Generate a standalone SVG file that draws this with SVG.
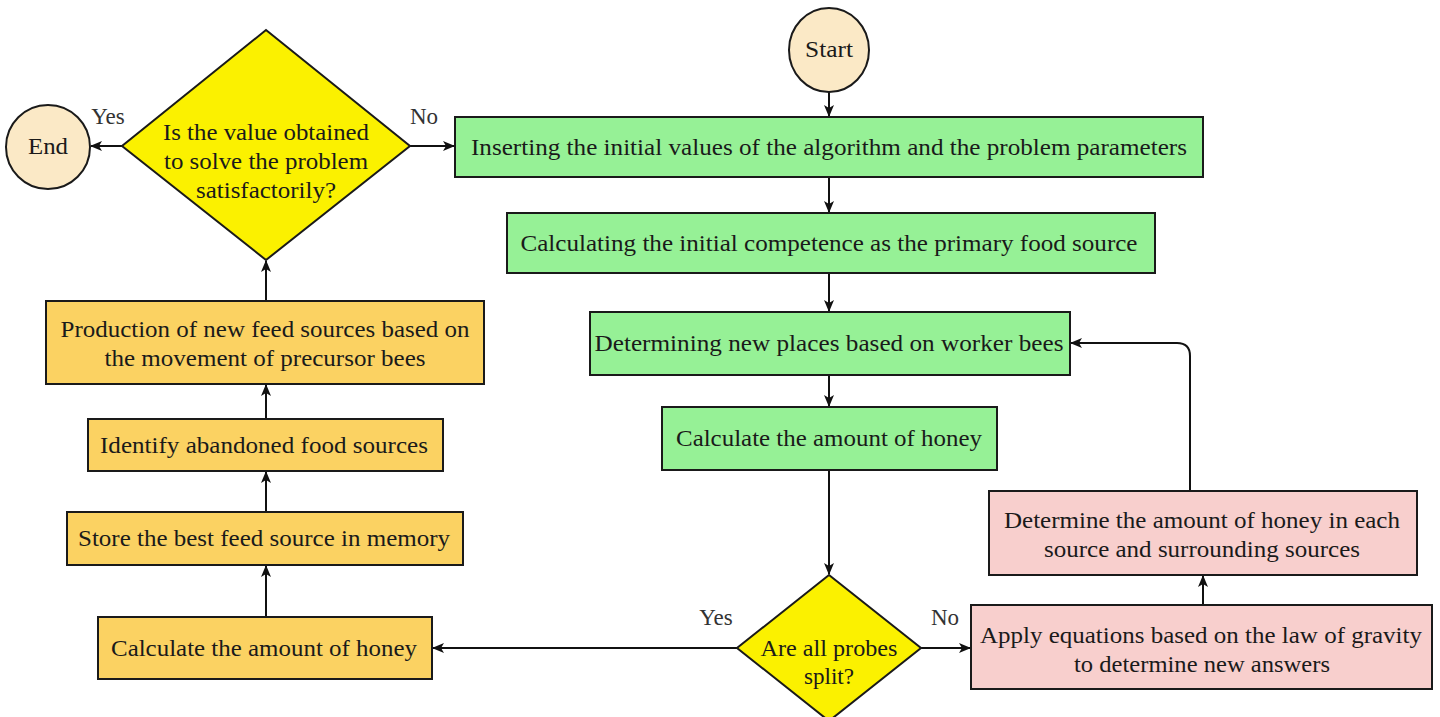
<svg xmlns="http://www.w3.org/2000/svg" width="1440" height="717" viewBox="0 0 1440 717">
<defs>
<marker id="arr" viewBox="0 0 12 10" refX="11" refY="5" markerWidth="12" markerHeight="10" markerUnits="userSpaceOnUse" orient="auto">
<path d="M0,0 L12,5 L0,10 L3,5 z" fill="#111"/>
</marker>
<style>
.box{stroke:#1a1a1a;stroke-width:2}
.g{fill:#96f196}
.o{fill:#fbd262}
.p{fill:#f8cfcd}
.y{fill:#fbf100}
.c{fill:#fbe9c6}
text{font-size:23px;fill:#1a1a1a;text-anchor:middle}
.lbl{fill:#333}
.con{stroke:#111;stroke-width:2;fill:none;marker-end:url(#arr)}
</style>
</defs>
<rect width="1440" height="717" fill="#fff"/>
<g font-family="Liberation Serif, Times New Roman, Tinos, serif">
<g id="connectors">
<path class="con" d="M829,92 L829,116"/>
<path class="con" d="M829,177 L829,212"/>
<path class="con" d="M829,273 L829,311"/>
<path class="con" d="M829,375 L829,406"/>
<path class="con" d="M829,470 L829,574"/>
<path class="con" d="M737,648 L433,648"/>
<path class="con" d="M921,648 L970,648"/>
<path class="con" d="M1203,605 L1203,576"/>
<path class="con" d="M1190,491 L1190,356 Q1190,343 1177,343 L1071,343"/>
<path class="con" d="M266,617 L266,566"/>
<path class="con" d="M266,512 L266,472"/>
<path class="con" d="M266,419 L266,385"/>
<path class="con" d="M266,301 L266,261"/>
<path class="con" d="M122,146 L91,146"/>
<path class="con" d="M410,146 L454,146"/>
<text class="lbl" x="108" y="124">Yes</text>
<text class="lbl" x="424" y="124">No</text>
<text class="lbl" x="716" y="625">Yes</text>
<text class="lbl" x="945" y="625">No</text>
</g>
<g id="start">
<ellipse class="box c" cx="829" cy="50" rx="40" ry="42"/>
<text x="829" y="57" textLength="48" lengthAdjust="spacingAndGlyphs">Start</text>
</g>
<g id="end">
<ellipse class="box c" cx="48" cy="147" rx="42" ry="42"/>
<text x="48" y="154" textLength="40" lengthAdjust="spacingAndGlyphs">End</text>
</g>
<g id="decision1">
<polygon class="box y" points="266,30 410,146 266,260 122,146"/>
<text x="266" y="140" textLength="206" lengthAdjust="spacingAndGlyphs">Is the value obtained</text>
<text x="266" y="169" textLength="204" lengthAdjust="spacingAndGlyphs">to solve the problem</text>
<text x="266" y="198" textLength="140" lengthAdjust="spacingAndGlyphs">satisfactorily?</text>
</g>
<g id="insert">
<rect class="box g" x="455" y="117" width="748" height="60"/>
<text x="829" y="155" textLength="716" lengthAdjust="spacingAndGlyphs">Inserting the initial values of the algorithm and the problem parameters</text>
</g>
<g id="calcInit">
<rect class="box g" x="507" y="213" width="648" height="60"/>
<text x="829" y="251" textLength="617" lengthAdjust="spacingAndGlyphs">Calculating the initial competence as the primary food source</text>
</g>
<g id="determining">
<rect class="box g" x="590" y="312" width="480" height="63"/>
<text x="829" y="351" textLength="469" lengthAdjust="spacingAndGlyphs">Determining new places based on worker bees</text>
</g>
<g id="calcHoneyGreen">
<rect class="box g" x="662" y="407" width="335" height="63"/>
<text x="829" y="446" textLength="306" lengthAdjust="spacingAndGlyphs">Calculate the amount of honey</text>
</g>
<g id="decision2">
<polygon class="box y" points="829,575 921,648 829,721 737,648"/>
<text x="829" y="656" textLength="137" lengthAdjust="spacingAndGlyphs">Are all probes</text>
<text x="829" y="684" textLength="50" lengthAdjust="spacingAndGlyphs">split?</text>
</g>
<g id="apply">
<rect class="box p" x="971" y="605" width="461" height="84"/>
<text x="1201" y="643" textLength="442" lengthAdjust="spacingAndGlyphs">Apply equations based on the law of gravity</text>
<text x="1202" y="672" textLength="256" lengthAdjust="spacingAndGlyphs">to determine new answers</text>
</g>
<g id="determineHoney">
<rect class="box p" x="989" y="491" width="428" height="84"/>
<text x="1202" y="528" textLength="396" lengthAdjust="spacingAndGlyphs">Determine the amount of honey in each</text>
<text x="1202" y="557" textLength="316" lengthAdjust="spacingAndGlyphs">source and surrounding sources</text>
</g>
<g id="calcHoneyOrange">
<rect class="box o" x="98" y="617" width="334" height="62"/>
<text x="264" y="656" textLength="306" lengthAdjust="spacingAndGlyphs">Calculate the amount of honey</text>
</g>
<g id="store">
<rect class="box o" x="67" y="512" width="396" height="53"/>
<text x="264" y="546" textLength="372" lengthAdjust="spacingAndGlyphs">Store the best feed source in memory</text>
</g>
<g id="identify">
<rect class="box o" x="88" y="419" width="355" height="52"/>
<text x="264" y="453" textLength="328" lengthAdjust="spacingAndGlyphs">Identify abandoned food sources</text>
</g>
<g id="production">
<rect class="box o" x="46" y="301" width="438" height="83"/>
<text x="265" y="337" textLength="409" lengthAdjust="spacingAndGlyphs">Production of new feed sources based on</text>
<text x="265" y="366" textLength="321" lengthAdjust="spacingAndGlyphs">the movement of precursor bees</text>
</g>
</g>
</svg>
